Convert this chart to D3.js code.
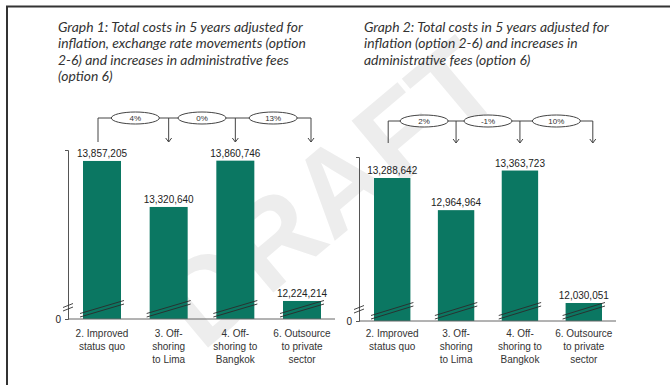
<!DOCTYPE html>
<html>
<head>
<meta charset="utf-8">
<script src="https://cdn.jsdelivr.net/npm/d3@7"></script>
<style>
  html, body { margin: 0; padding: 0; background: #fff; }
  svg { display: block; }
</style>
</head>
<body>
<svg id="chart" width="670" height="385"></svg>
<script>
// categories (label lines as printed under the bars)
const categories = ["2. Improved status quo", "3. Off-shoring to Lima", "4. Off-shoring to Bangkok", "6. Outsource to private sector"];
const categoryLines = [
    ["2. Improved", "status quo"],
    ["3. Off-", "shoring", "to Lima"],
    ["4. Off-", "shoring to", "Bangkok"],
    ["6. Outsource", "to private", "sector"]
];

// Graph 1: adjusted for inflation, exchange rates, admin fees
const values1 = [13857205, 13320640, 13860746, 12224214];
const diffs1 = ["4%", "0%", "13%"];
const title1 = [
    "Graph 1: Total costs in 5 years adjusted for",
    "inflation, exchange rate movements (option",
    "2-6) and increases in administrative fees",
    "(option 6)"
];

// Graph 2: adjusted for inflation and admin fees
const values2 = [13288642, 12964964, 13363723, 12030051];
const diffs2 = ["2%", "-1%", "10%"];
const title2 = [
    "Graph 2: Total costs in 5 years adjusted for",
    "inflation (option 2-6) and increases in",
    "administrative fees (option 6)"
];

const barColor = "#0b7762";
const labelFont = "'Liberation Sans', Arial, sans-serif";
const titleFont = "Lato, 'Open Sans', sans-serif";

const svg = d3.select("#chart");

// watermark behind everything
svg.append("text")
    .attr("transform", "translate(335,200) rotate(-40)")
    .attr("text-anchor", "middle")
    .attr("dominant-baseline", "middle")
    .style("font-family", labelFont)
    .style("font-weight", "bold")
    .style("font-size", "118px")
    .style("fill", "#ededed")
    .text("DRAFT");

// page frame (top and left edge)
svg.append("path")
    .attr("d", "M7,385 V6.5 H670")
    .attr("fill", "none")
    .attr("stroke", "#333")
    .attr("stroke-width", 2);

function drawGraph(opts) {
    const { values, diffs, title, titleX, xRange, yDomain, yRange, bracketY, arrowEnd } = opts;
    const g = svg.append("g");

    // title, sized so the first line spans ~245px like the source
    const t = g.append("text")
        .attr("x", titleX)
        .style("font-family", titleFont)
        .style("font-style", "italic")
        .style("font-size", "14px")
        .style("fill", "#333");
    title.forEach((line, i) => {
        t.append("tspan").attr("x", titleX).attr("y", 32 + i * 16.4).text(line);
    });
    const w = t.select("tspan").node().getComputedTextLength();
    t.style("font-size", Math.min(14.5, 14 * 245 / w) + "px");

    const x = d3.scaleBand()
        .domain(categories)
        .range(xRange)
        .paddingInner(0.43)
        .paddingOuter(0);

    const y = d3.scaleLinear().domain(yDomain).range(yRange);
    const base = y(yDomain[0]);
    const axisX = xRange[0] - 15;
    const axisEnd = xRange[1] + 14;

    // bars
    g.selectAll("rect.bar")
        .data(values)
        .join("rect")
        .attr("class", "bar")
        .attr("x", (d, i) => x(categories[i]))
        .attr("width", x.bandwidth())
        .attr("y", d => y(d))
        .attr("height", d => base - y(d))
        .attr("fill", barColor);

    // bar break marks
    values.forEach((d, i) => {
        const x0 = x(categories[i]) - 3;
        const x1 = x(categories[i]) + x.bandwidth() + 3;
        [0, 3.5].forEach(off => {
            g.append("line")
                .attr("x1", x0).attr("y1", base - 2 - off)
                .attr("x2", x1).attr("y2", base - 15 - off)
                .attr("stroke", "#2b2b2b")
                .attr("stroke-width", 0.9);
        });
    });

    // value labels
    g.selectAll("text.value")
        .data(values)
        .join("text")
        .attr("class", "value")
        .attr("x", (d, i) => x(categories[i]) + x.bandwidth() / 2)
        .attr("y", d => y(d) - 4)
        .attr("text-anchor", "middle")
        .style("font-family", labelFont)
        .style("font-size", "10px")
        .style("fill", "#222")
        .text(d => d3.format(",")(d));

    // baseline
    g.append("line")
        .attr("x1", axisX).attr("x2", axisEnd)
        .attr("y1", base).attr("y2", base)
        .attr("stroke", "#666");

    // y axis with only the zero label
    const yAxis = d3.axisLeft(y)
        .tickValues([yDomain[0]])
        .tickFormat(() => "0")
        .tickSizeInner(2)
        .tickSizeOuter(3)
        .tickPadding(5);
    const ax = g.append("g")
        .attr("transform", `translate(${axisX},0)`)
        .call(yAxis);
    ax.select(".domain").attr("stroke", "#555");
    ax.selectAll(".tick line").attr("stroke", "#555");
    ax.selectAll(".tick text")
        .style("font-family", labelFont)
        .style("font-size", "10px")
        .style("fill", "#222");

    // axis break
    const by = base - 10;
    [0, 3.5].forEach(off => {
        g.append("line")
            .attr("x1", axisX - 5).attr("y1", by + 2 - off)
            .attr("x2", axisX + 5).attr("y2", by - 2 - off)
            .attr("stroke", "#333")
            .attr("stroke-width", 0.9);
    });

    // category labels
    categoryLines.forEach((lines, i) => {
        const cx = x(categories[i]) + x.bandwidth() / 2;
        const tl = g.append("text")
            .attr("text-anchor", "middle")
            .style("font-family", labelFont)
            .style("font-size", "10px")
            .style("fill", "#333");
        lines.forEach((line, j) => {
            tl.append("tspan").attr("x", cx).attr("y", 337 + j * 13).text(line);
        });
    });

    // difference brackets
    const centers = categories.map(c => x(c) + x.bandwidth() / 2);
    const startX = centers[0] - 4;
    const arrowX = [centers[1], centers[2], centers[3] + 9];
    const stroke = "#444";

    g.append("path")
        .attr("d", `M${startX},${arrowEnd} V${bracketY} H${arrowX[2]}`)
        .attr("fill", "none")
        .attr("stroke", stroke);

    arrowX.forEach((ax2, i) => {
        g.append("line")
            .attr("x1", ax2).attr("x2", ax2)
            .attr("y1", bracketY).attr("y2", arrowEnd)
            .attr("stroke", stroke);
        g.append("path")
            .attr("d", `M${ax2 - 3},${arrowEnd - 4} L${ax2},${arrowEnd} L${ax2 + 3},${arrowEnd - 4}`)
            .attr("fill", "none")
            .attr("stroke", stroke);

        const from = i === 0 ? centers[0] : arrowX[i - 1];
        const ex = (from + ax2) / 2;
        g.append("ellipse")
            .attr("cx", ex).attr("cy", bracketY)
            .attr("rx", 24).attr("ry", 6)
            .attr("fill", "#fff")
            .attr("stroke", stroke);
        g.append("text")
            .attr("x", ex).attr("y", bracketY + 3)
            .attr("text-anchor", "middle")
            .style("font-family", labelFont)
            .style("font-size", "8px")
            .style("fill", "#333")
            .text(diffs[i]);
    });
}

drawGraph({
    values: values1, diffs: diffs1, title: title1, titleX: 58,
    xRange: [83, 321],
    yDomain: [12014000, 13985000], yRange: [319, 150],
    bracketY: 118, arrowEnd: 142
});

drawGraph({
    values: values2, diffs: diffs2, title: title2, titleX: 364,
    xRange: [374, 602],
    yDomain: [11849000, 13500000], yRange: [321, 157],
    bracketY: 121, arrowEnd: 143
});
</script>
</body>
</html>
